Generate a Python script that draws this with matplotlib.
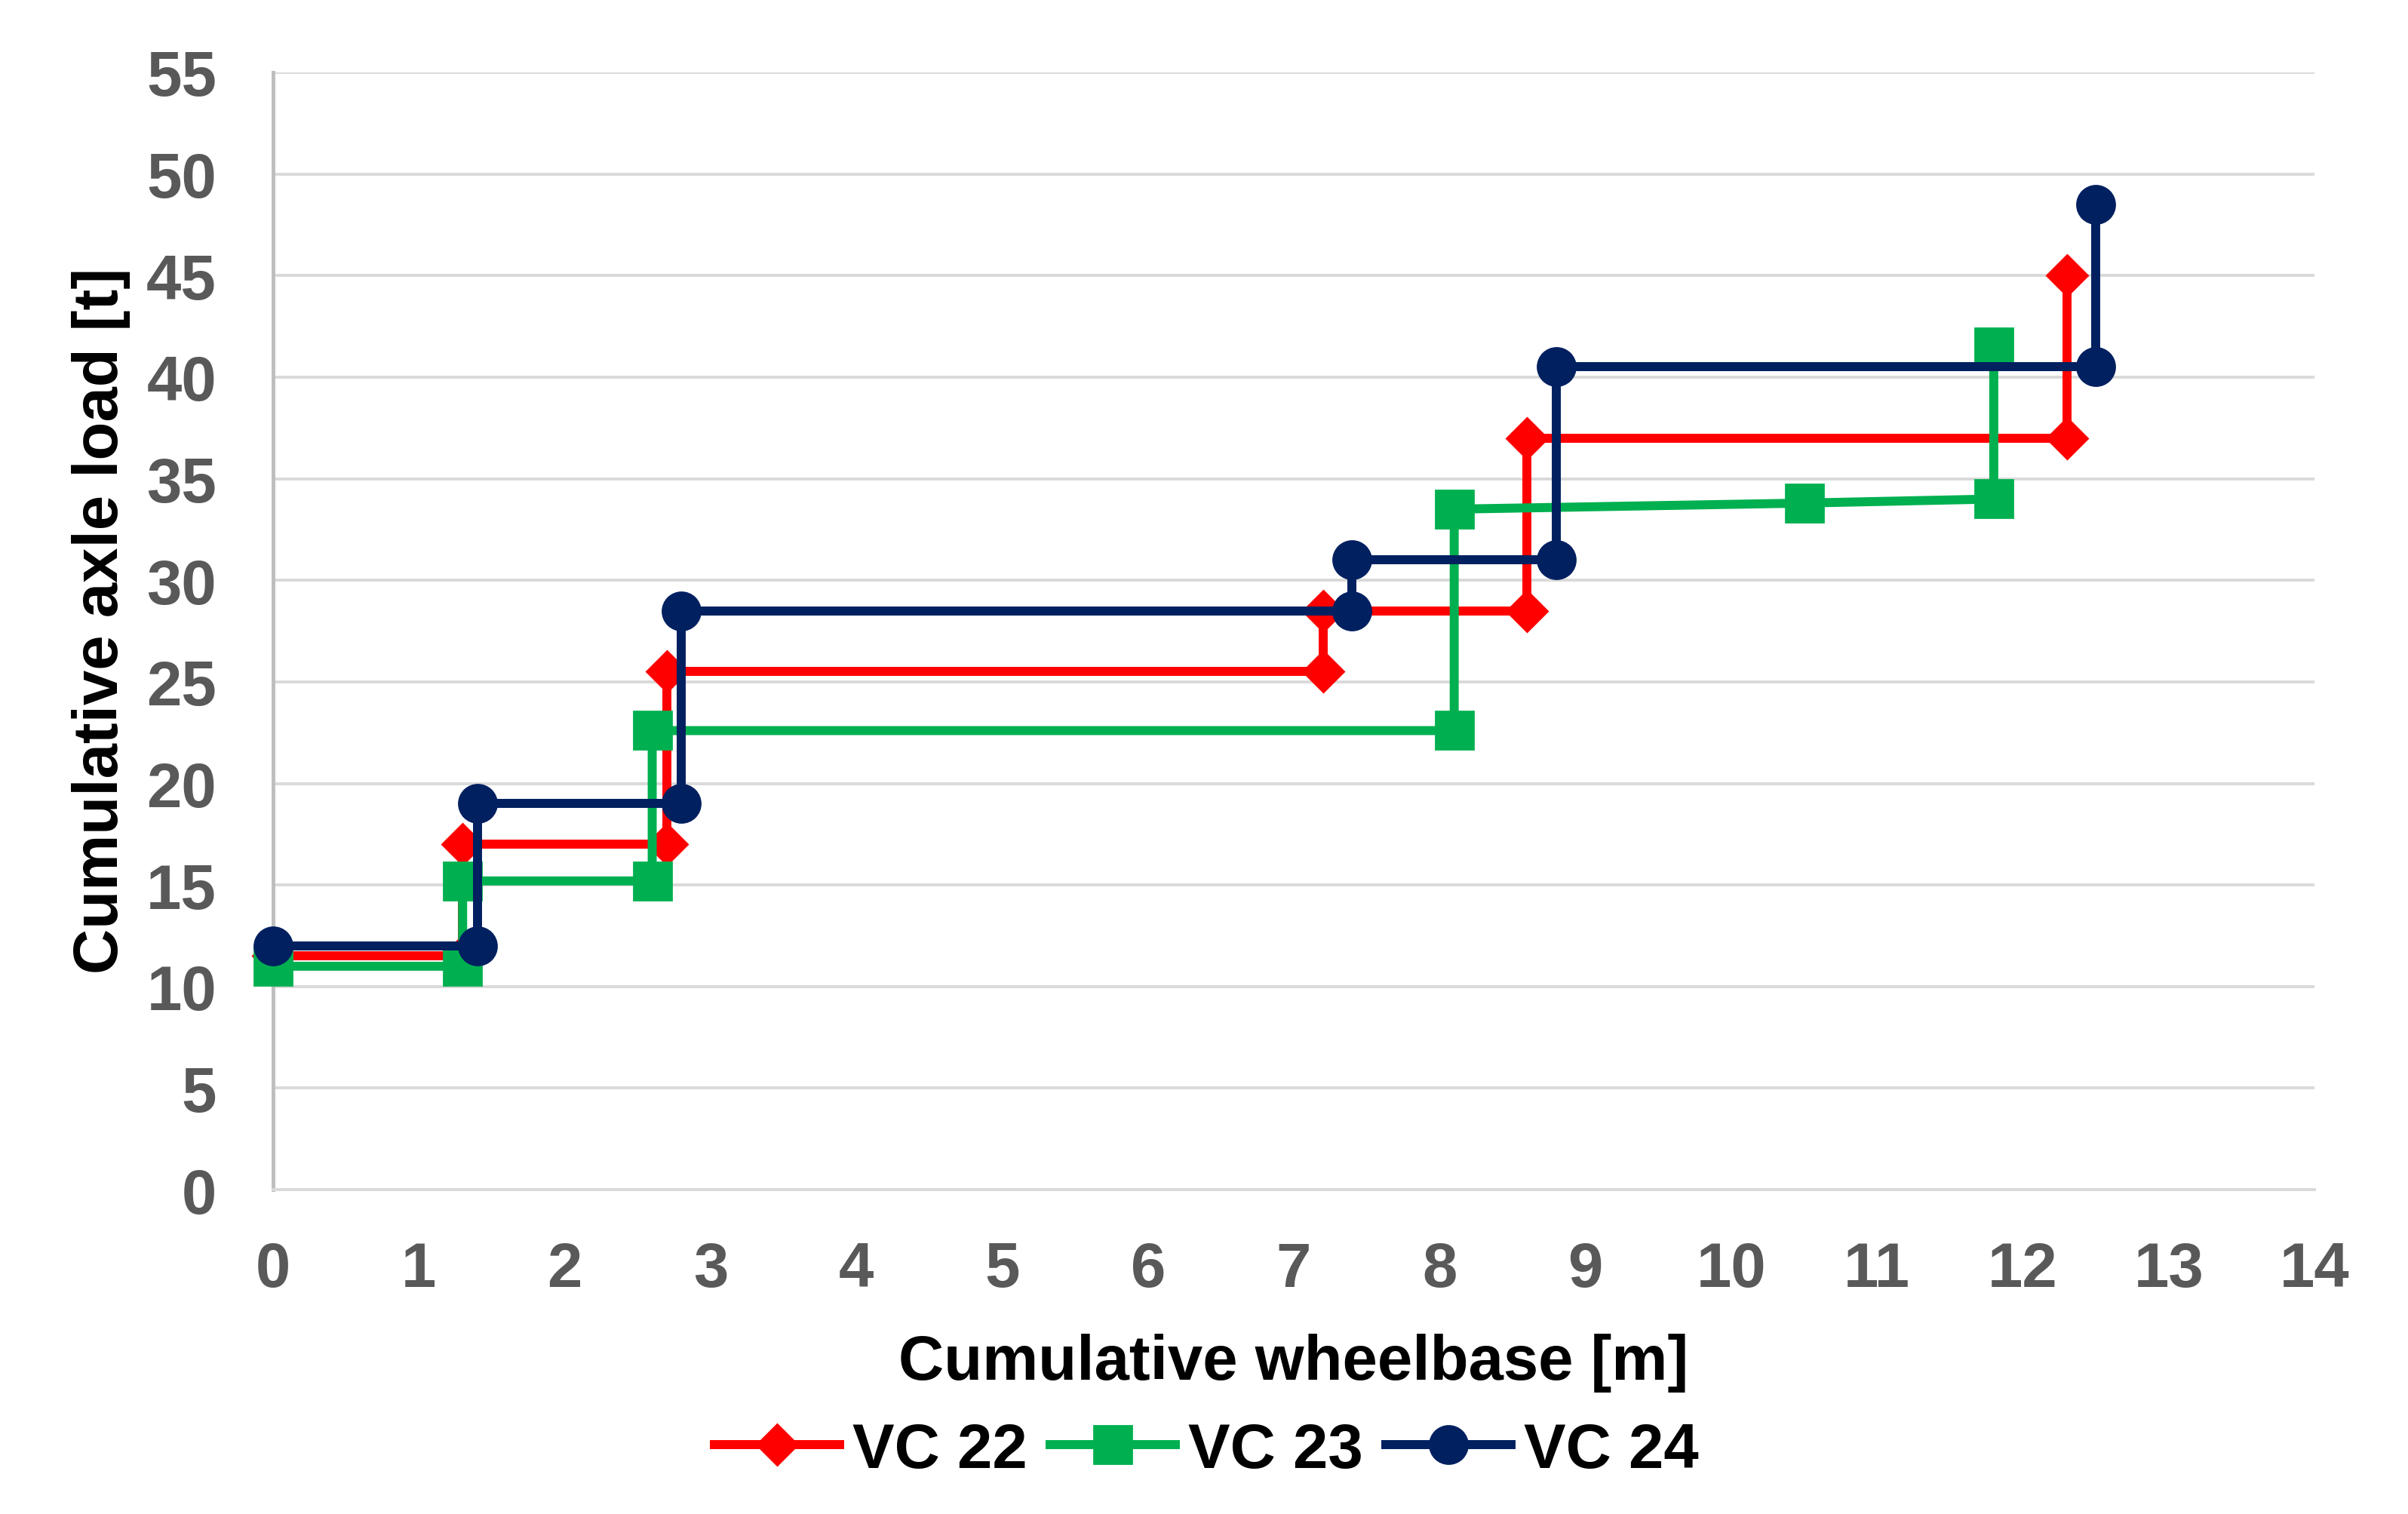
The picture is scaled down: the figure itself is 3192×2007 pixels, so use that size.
import matplotlib
matplotlib.use("Agg")
import matplotlib.pyplot as plt

# Cumulative wheelbase [m] and cumulative axle load [t] per vehicle (step profile)
vc22_x = [0, 1.3, 1.3, 2.7, 2.7, 7.2, 7.2, 8.6, 8.6, 12.3, 12.3]
vc22_y = [11.5, 11.5, 17, 17, 25.5, 25.5, 28.5, 28.5, 37, 37, 45]

vc23_x = [0, 1.3, 1.3, 2.6, 2.6, 8.1, 8.1, 10.5, 11.8, 11.8]
vc23_y = [11, 11, 15.2, 15.2, 22.6, 22.6, 33.5, 33.8, 34, 41.5]

vc24_x = [0, 1.4, 1.4, 2.8, 2.8, 7.4, 7.4, 8.8, 8.8, 12.5, 12.5]
vc24_y = [12, 12, 19, 19, 28.5, 28.5, 31, 31, 40.5, 40.5, 48.5]

x_ticks = list(range(0, 15))
y_ticks = list(range(0, 60, 5))

plt.rcParams['font.family'] = ['Liberation Sans', 'DejaVu Sans']
plt.rcParams['font.weight'] = 'bold'

fig = plt.figure(figsize=(15.96, 10.04), dpi=200)
ax = fig.add_axes([0.1134, 0.2141, 0.9612 - 0.1134, 0.9517 - 0.2141])

lw = 4.3
ax.plot(vc22_x, vc22_y, color='#FF0000', lw=lw, marker='D', markersize=14,
        label='VC 22', clip_on=False, zorder=3)
ax.plot(vc23_x, vc23_y, color='#00B050', lw=lw, marker='s', markersize=18,
        label='VC 23', clip_on=False, zorder=4)
ax.plot(vc24_x, vc24_y, color='#002060', lw=lw, marker='o', markersize=18,
        label='VC 24', clip_on=False, zorder=5)

ax.set_xlim(0, 14)
ax.set_ylim(0, 55)
ax.set_xticks(x_ticks)
ax.set_yticks(y_ticks)
ax.tick_params(axis='both', length=0, labelsize=30, labelcolor='#595959')
ax.tick_params(axis='x', pad=24)
ax.tick_params(axis='y', pad=27)
for lab in ax.get_xticklabels() + ax.get_yticklabels():
    lab.set_fontweight('bold')

ax.yaxis.grid(True, color='#d9d9d9', lw=1.4)
ax.set_axisbelow(True)
for s in ['top', 'right']:
    ax.spines[s].set_visible(False)
ax.spines['left'].set_color('#bfbfbf')
ax.spines['left'].set_linewidth(1.8)
ax.spines['bottom'].set_color('#d9d9d9')
ax.spines['bottom'].set_linewidth(1.4)

ax.set_xlabel('Cumulative wheelbase [m]', fontsize=30, fontweight='bold', color='black')
ax.set_ylabel('Cumulative axle load [t]', fontsize=30, fontweight='bold', color='black')
ax.xaxis.set_label_coords(0.5, -0.128)
ax.yaxis.set_label_coords(-0.07, 0.51)

fig.legend(loc='center', bbox_to_anchor=(0.501, 0.042), ncol=3, frameon=False,
           handlelength=2.0, handletextpad=0.2, columnspacing=0.36,
           prop={'weight': 'bold', 'size': 30})

fig.savefig('out.png', dpi=200)
